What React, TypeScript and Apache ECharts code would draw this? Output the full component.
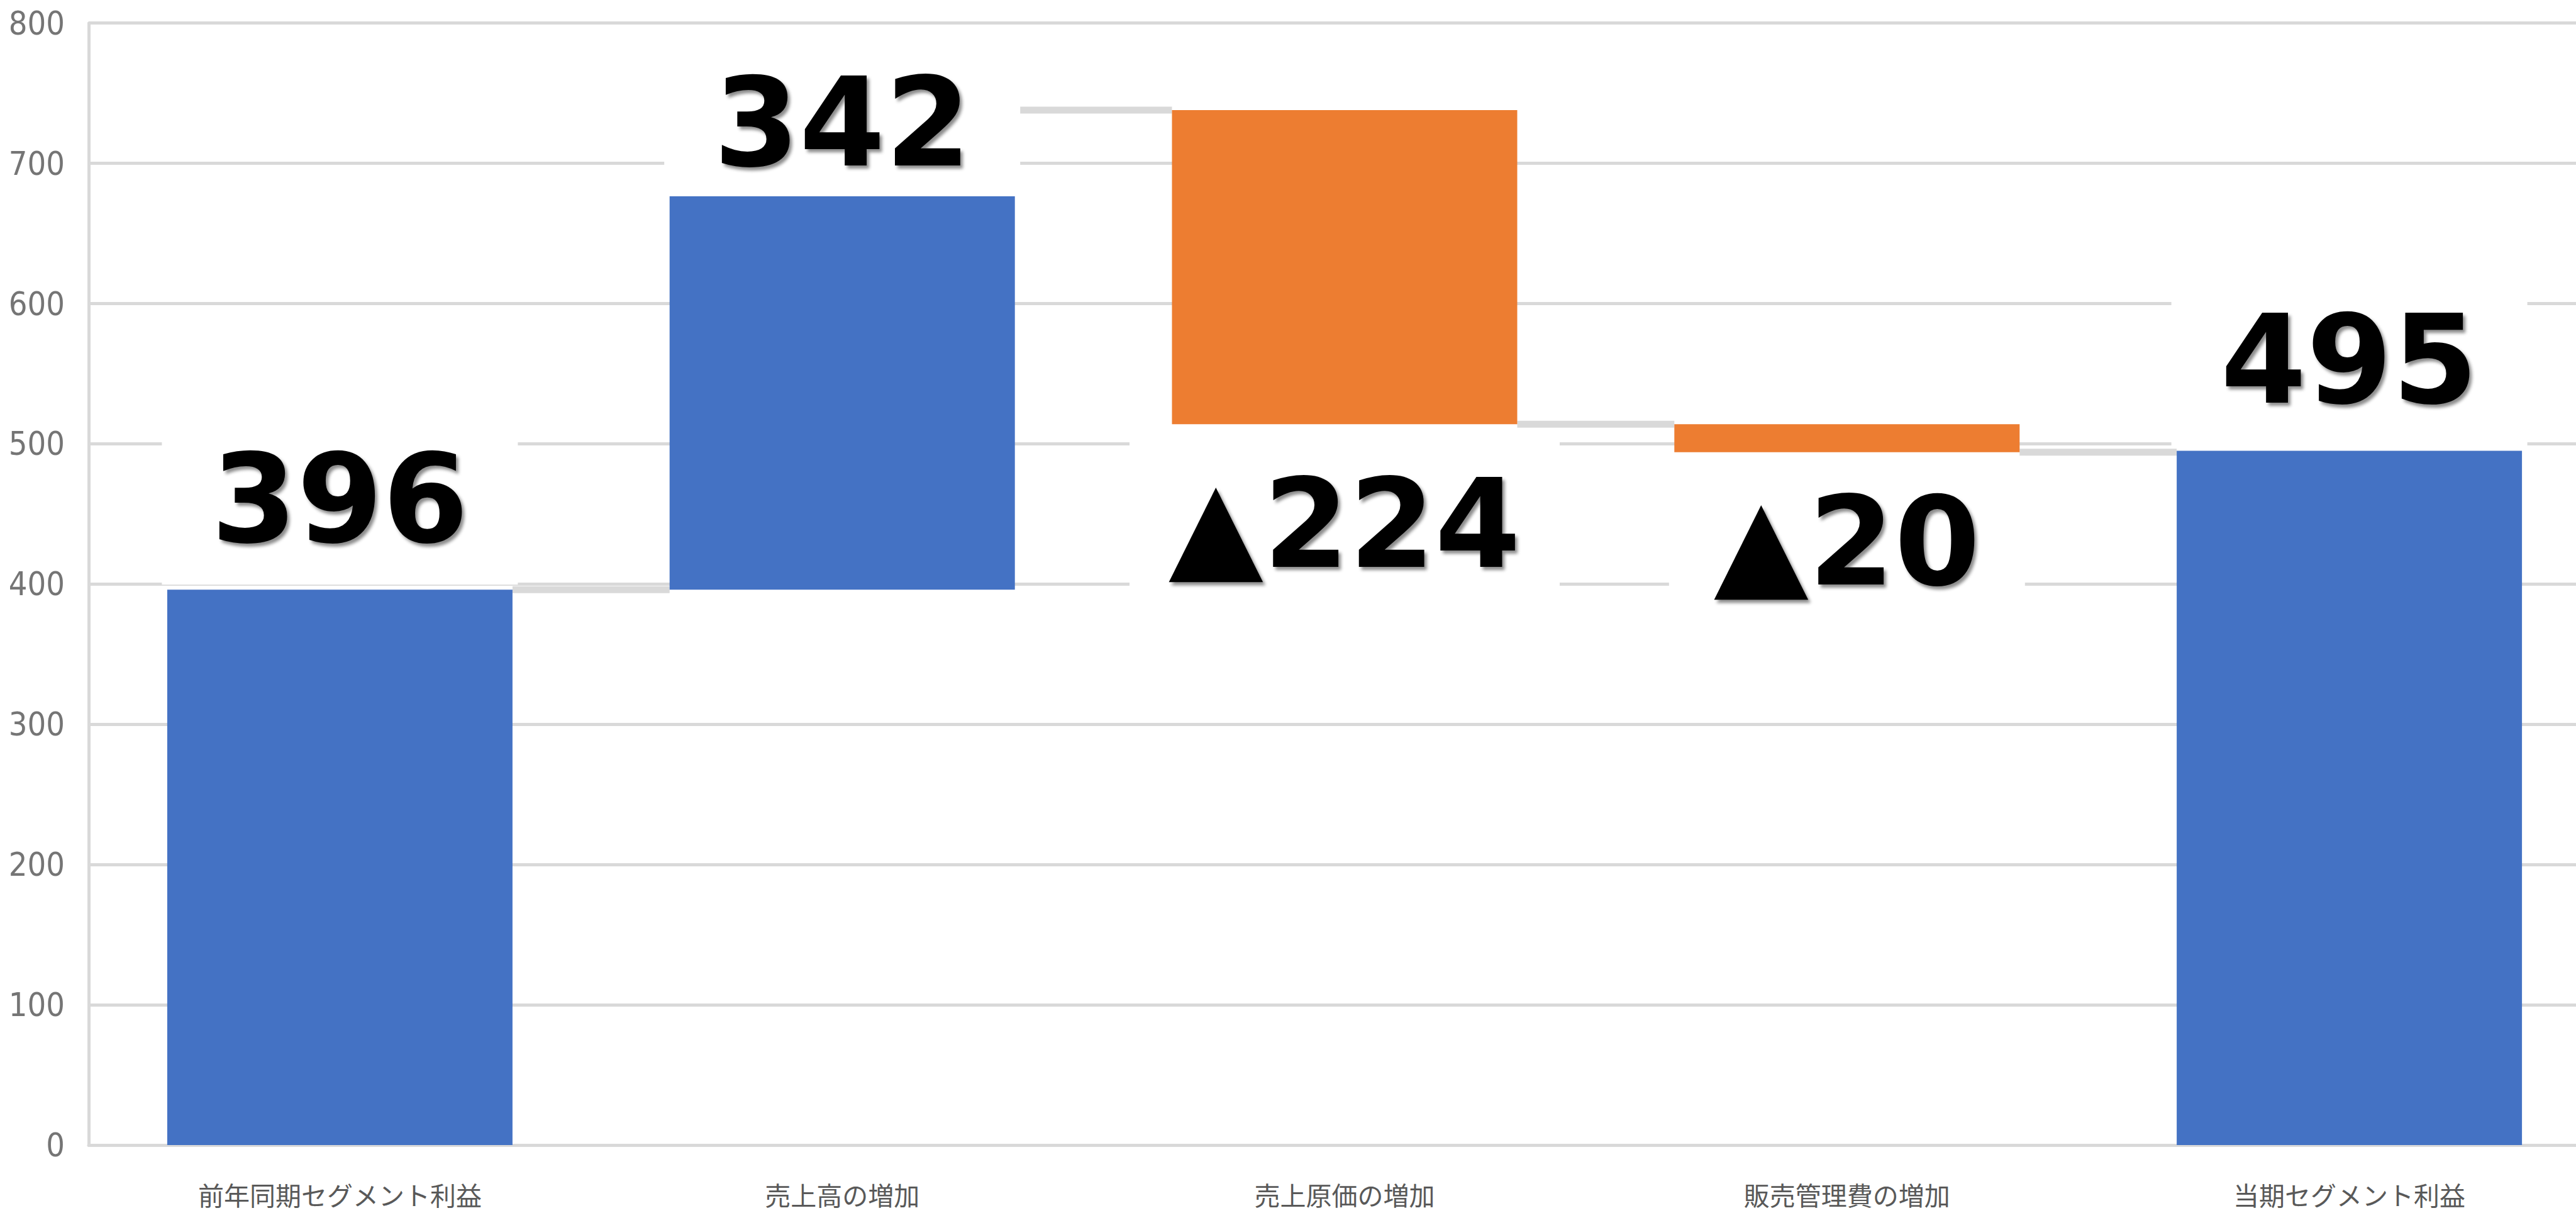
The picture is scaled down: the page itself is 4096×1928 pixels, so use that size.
import React, { useEffect, useRef } from "react";
import * as echarts from "echarts";

const categories = [
  "前年同期セグメント利益",
  "売上高の増加",
  "売上原価の増加",
  "販売管理費の増加",
  "当期セグメント利益",
];
const deltas = [396, 342, -224, -20, 495];
const kinds = ["total", "delta", "delta", "delta", "total"];
const labelTexts = ["396", "342", "▲224", "▲20", "495"];
const yMin = 0;
const yMax = 800;
const yInterval = 100;

const BLUE = "#4472C4";
const ORANGE = "#ED7D31";
const GRID_GRAY = "#d9d9d9";
const BAR_WIDTH = 549;

export default function App() {
  const ref = useRef<HTMLDivElement>(null);

  useEffect(() => {
    if (!ref.current) return;
    const chart = echarts.init(ref.current, undefined, { renderer: "svg" });

    const bases: number[] = [];
    const heights: number[] = [];
    const levels: number[] = [];
    let running = 0;
    deltas.forEach((d, i) => {
      if (kinds[i] === "total") {
        bases.push(0);
        heights.push(d);
        running = d;
      } else if (d >= 0) {
        bases.push(running);
        heights.push(d);
        running += d;
      } else {
        running += d;
        bases.push(running);
        heights.push(-d);
      }
      levels.push(running);
    });

    const labelPlacement: any[] = [
      { position: "top", distance: 8 },
      {
        position: ["50%", 20],
        align: "center",
        verticalAlign: "middle",
        lineHeight: 234,
      },
      { position: "bottom", distance: 22 },
      { position: "bottom", distance: 6 },
      { position: "top", distance: 8 },
    ];

    const visibleData = heights.map((h, i) => ({
      value: h,
      itemStyle: { color: deltas[i] < 0 ? ORANGE : BLUE },
      label: {
        show: true,
        formatter: labelTexts[i],
        fontFamily: "DejaVu Sans",
        fontWeight: "bold",
        fontSize: 196,
        color: "#000",
        backgroundColor: "#ffffff",
        width: labelTexts[i].length > 3 ? 684 : 566,
        lineHeight: 273,
        align: "center",
        textShadowColor: "rgba(0,0,0,0.45)",
        textShadowBlur: 5,
        textShadowOffsetX: 4,
        textShadowOffsetY: 5,
        ...labelPlacement[i],
      },
    }));

    const connectorData = levels.slice(0, levels.length - 1).map((lv, i) => [i, lv]);

    chart.setOption({
      animation: false,
      backgroundColor: "#ffffff",
      grid: {
        left: 141,
        width: 3994,
        top: 36.7,
        height: 1783.3,
        containLabel: false,
        outerBoundsMode: "none",
      },
      xAxis: {
        type: "category",
        data: categories,
        axisLine: { show: true, lineStyle: { color: GRID_GRAY, width: 5 } },
        axisTick: { show: false },
        axisLabel: {
          interval: 0,
          fontFamily: "Noto Sans CJK JP",
          fontSize: 41,
          lineHeight: 44,
          color: "#595959",
          margin: 56,
        },
      },
      yAxis: {
        type: "value",
        min: yMin,
        max: yMax,
        interval: yInterval,
        axisLine: { show: true, lineStyle: { color: GRID_GRAY, width: 5 } },
        axisTick: { show: false },
        splitLine: { show: true, lineStyle: { color: GRID_GRAY, width: 5 } },
        axisLabel: {
          fontFamily: "'Liberation Sans Narrow', 'DejaVu Sans Condensed', 'Noto Sans', sans-serif",
          fontSize: 52,
          color: "#757575",
          margin: 38,
        },
      },
      series: [
        {
          type: "custom",
          z: 1,
          silent: true,
          data: connectorData,
          encode: { x: 0, y: 1 },
          renderItem: (params: any, api: any) => {
            const i = api.value(0);
            const lv = api.value(1);
            const p1 = api.coord([i, lv]);
            const p2 = api.coord([i + 1, lv]);
            const half = BAR_WIDTH / 2;
            return {
              type: "line",
              shape: { x1: p1[0] + half, y1: p1[1], x2: p2[0] - half, y2: p2[1] },
              style: { stroke: GRID_GRAY, lineWidth: 11 },
            };
          },
        },
        {
          type: "bar",
          stack: "wf",
          barWidth: BAR_WIDTH,
          silent: true,
          z: 2,
          itemStyle: { color: "rgba(0,0,0,0)" },
          data: bases,
        },
        {
          type: "bar",
          stack: "wf",
          barWidth: BAR_WIDTH,
          silent: true,
          z: 2,
          data: visibleData,
        },
      ],
    });

    return () => chart.dispose();
  }, []);

  return (
    <div
      ref={ref}
      style={{ position: "fixed", left: 0, top: 0, width: 4096, height: 1928 }}
    />
  );
}
